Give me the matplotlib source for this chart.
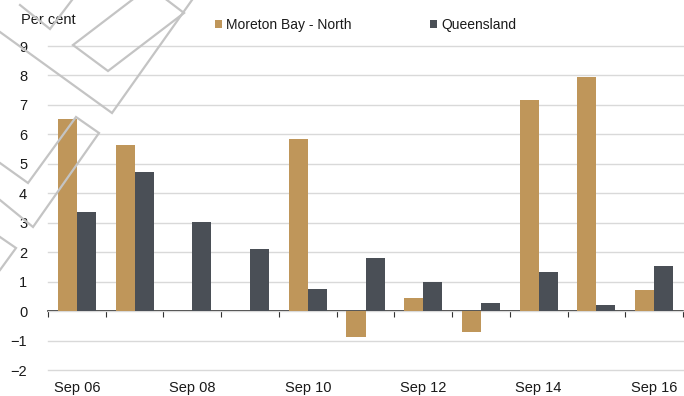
import matplotlib
matplotlib.use("Agg")
import matplotlib.pyplot as plt
import numpy as np
from matplotlib.lines import Line2D

plt.rcParams["font.family"] = ["Liberation Sans", "DejaVu Sans"]

# data
years = ["Sep 06", "Sep 07", "Sep 08", "Sep 09", "Sep 10", "Sep 11",
         "Sep 12", "Sep 13", "Sep 14", "Sep 15", "Sep 16"]
moreton = [6.52, 5.65, 0.0, 0.0, 5.85, -0.87, 0.43, -0.70, 7.18, 7.96, 0.72]
qld = [3.37, 4.73, 3.03, 2.10, 0.75, 1.79, 0.98, 0.27, 1.32, 0.19, 1.54]
yticks = list(range(-2, 10))

gold = "#bf965a"
dark = "#4a4f56"
grid = "#d9d9d9"
txt = "#1a1a1a"

W, H = 684, 396
fig = plt.figure(figsize=(W / 100, H / 100), dpi=100)
ax = fig.add_axes([48 / W, 1 - 370 / H, (683 - 48) / W, (370 - 46) / H])

x = np.arange(len(years))
bw = 0.33
b1 = ax.bar(x - 0.165, moreton, width=bw, color=gold, zorder=3, label="Moreton Bay - North")
b2 = ax.bar(x + 0.165, qld, width=bw, color=dark, zorder=3, label="Queensland")

ax.set_xlim(-0.5, len(years) - 0.5)
ax.set_ylim(-2, 9)
ax.set_yticks(yticks)
ax.set_yticklabels([str(v).replace("-", "\u2212") for v in yticks])
ax.set_xticks(x[::2])
ax.set_xticklabels(years[::2])
ax.tick_params(axis="both", length=0, labelsize=10.5, colors=txt)
ax.tick_params(axis="y", pad=15)
ax.tick_params(axis="x", pad=8)
for s in ax.spines.values():
    s.set_visible(False)
ax.grid(axis="y", color=grid, linewidth=1, zorder=0, clip_on=False)
for gl in ax.get_ygridlines():
    gl.set_clip_on(False)

# zero line with boundary ticks
sec = ax.secondary_xaxis(2 / 11)
sec.set_xticks(np.arange(-0.5, len(years), 1))
sec.set_xticklabels([])
sec.tick_params(length=4, width=0.8, color="#333333", direction="out")
sec.spines["bottom"].set_color("black")
sec.spines["bottom"].set_linewidth(1.1)

fig.text(21 / W, 1 - 20 / H, "Per cent", fontsize=10.5, color=txt, va="center", ha="left")

leg = ax.legend(handles=[b1, b2], loc="center left", bbox_to_anchor=(209 / W, 1 - 25 / H),
                bbox_transform=fig.transFigure, ncol=2, frameon=False, fontsize=10,
                handlelength=0.55, handleheight=0.55, handletextpad=0.3,
                columnspacing=5.6, borderaxespad=0)
for t in leg.get_texts():
    t.set_color(txt)

# watermark outlines (pixel coords)
shapes = [
    [(20, 5), (50, 29), (72, 0)],
    [(149, -13), (73, 45), (108, 71), (184, 13), (163, -3)],
    [(0, 32), (112, 113), (192, 0)],
    [(0, 163), (28, 183), (76, 117), (99, 133), (33, 227), (0, 200)],
    [(0, 237), (16, 248), (0, 270)],
]
for pts in shapes:
    xs = [p[0] / W for p in pts]
    ys = [1 - p[1] / H for p in pts]
    fig.add_artist(Line2D(xs, ys, transform=fig.transFigure, color="#c4c4c4",
                          linewidth=1.6, zorder=10, solid_joinstyle="miter"))

fig.savefig("out.png", dpi=100)
